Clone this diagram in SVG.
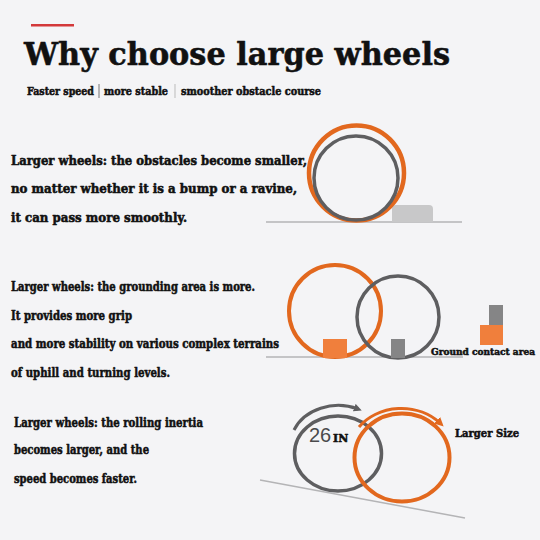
<svg xmlns="http://www.w3.org/2000/svg" width="540" height="540" viewBox="0 0 540 540">
<defs>
<style>
.t{font-family:"DejaVu Serif","Liberation Serif",serif;font-weight:bold;fill:#111;stroke:#111;stroke-width:0.55;stroke-linejoin:round}
.body{font-size:12.5px}
.sm{font-size:11px}
.og{fill:none;stroke:#e2681e}
.gy{fill:none;stroke:#5e5e60}
.gl{stroke:#b4b4b6;stroke-width:1.5}
</style>
<marker id="ahG" markerWidth="8" markerHeight="8" refX="4" refY="4" orient="auto" markerUnits="userSpaceOnUse">
<path d="M0,0 L8,4 L0,8 Z" fill="#5e5e60"/>
</marker>
<marker id="ahO" markerWidth="9" markerHeight="9" refX="4" refY="4.5" orient="auto" markerUnits="userSpaceOnUse">
<path d="M0,0 L9,4.5 L0,9 Z" fill="#e2681e"/>
</marker>
</defs>
<rect width="540" height="540" fill="#f4f4f6"/>

<g id="header">
<rect x="31" y="24" width="43" height="2.5" fill="#d3393b"/>
<text class="t" x="24" y="65" font-size="31" stroke-width="1.4" textLength="426" lengthAdjust="spacingAndGlyphs">Why choose large wheels</text>
<text class="t sm" x="27" y="95" textLength="67" lengthAdjust="spacingAndGlyphs">Faster speed</text>
<line x1="99" y1="84" x2="99" y2="98" stroke="#777" stroke-width="1"/>
<text class="t sm" x="104" y="95" textLength="64" lengthAdjust="spacingAndGlyphs">more stable</text>
<line x1="175" y1="84" x2="175" y2="98" stroke="#bbb" stroke-width="1"/>
<text class="t sm" x="181" y="95" textLength="140" lengthAdjust="spacingAndGlyphs">smoother obstacle course</text>
</g>

<g id="section1">
<text class="t body" x="11" y="165" textLength="296" lengthAdjust="spacingAndGlyphs">Larger wheels: the obstacles become smaller,</text>
<text class="t body" x="11" y="193" textLength="286" lengthAdjust="spacingAndGlyphs">no matter whether it is a bump or a ravine,</text>
<text class="t body" x="11" y="222" textLength="176" lengthAdjust="spacingAndGlyphs">it can pass more smoothly.</text>
<line class="gl" x1="266" y1="222" x2="462" y2="222"/>
<path d="M392,222 V209 Q392,205 396,205 H429 Q433,205 433,209 V222 Z" fill="#c8c8c9"/>
<circle class="og" cx="356.5" cy="173" r="47.5" stroke-width="4.5"/>
<circle class="gy" cx="356" cy="178" r="42" stroke-width="3.5"/>
</g>

<g id="section2">
<text class="t body" x="11" y="291" textLength="244" lengthAdjust="spacingAndGlyphs">Larger wheels: the grounding area is more.</text>
<text class="t body" x="11" y="320" textLength="121" lengthAdjust="spacingAndGlyphs">It provides more grip</text>
<text class="t body" x="11" y="348" textLength="268" lengthAdjust="spacingAndGlyphs">and more stability on various complex terrains</text>
<text class="t body" x="11" y="377" textLength="159" lengthAdjust="spacingAndGlyphs">of uphill and turning levels.</text>
<line class="gl" x1="266" y1="357" x2="463" y2="357"/>
<circle class="og" cx="335" cy="311" r="46" stroke-width="4"/>
<circle class="gy" cx="398" cy="317" r="41" stroke-width="3.5"/>
<rect x="323" y="339" width="24" height="19" fill="#f07f3c"/>
<rect x="391" y="339" width="14" height="19" fill="#858586"/>
<rect x="489" y="305" width="14" height="20" fill="#858586"/>
<rect x="480" y="325" width="23" height="20" fill="#f07f3c"/>
<text class="t" x="431" y="355" font-size="9.5" textLength="104" lengthAdjust="spacingAndGlyphs">Ground contact area</text>
</g>

<g id="section3">
<text class="t body" x="14" y="427" textLength="189" lengthAdjust="spacingAndGlyphs">Larger wheels: the rolling inertia</text>
<text class="t body" x="14" y="454" textLength="135" lengthAdjust="spacingAndGlyphs">becomes larger, and the</text>
<text class="t body" x="14" y="483" textLength="123" lengthAdjust="spacingAndGlyphs">speed becomes faster.</text>
<line class="gl" x1="260" y1="480" x2="465" y2="518"/>
<ellipse class="gy" cx="338" cy="453.5" rx="43.5" ry="37.5" stroke-width="3.5"/>
<ellipse class="og" cx="402" cy="457.5" rx="47.5" ry="44" stroke-width="4"/>
<path class="gy" d="M294,430 A48,40 0 0 1 358,409" stroke-width="3" marker-end="url(#ahG)"/>
<path class="og" d="M359,427 A52,44 0 0 1 440,423" stroke-width="3" marker-end="url(#ahO)"/>
<text x="309" y="442" font-family="'Liberation Sans','DejaVu Sans',sans-serif" font-size="20" fill="#4a4a4c">26</text>
<text class="t" x="333" y="442" font-size="11">IN</text>
<text class="t sm" x="455" y="437" textLength="64" lengthAdjust="spacingAndGlyphs">Larger Size</text>
</g>
</svg>
